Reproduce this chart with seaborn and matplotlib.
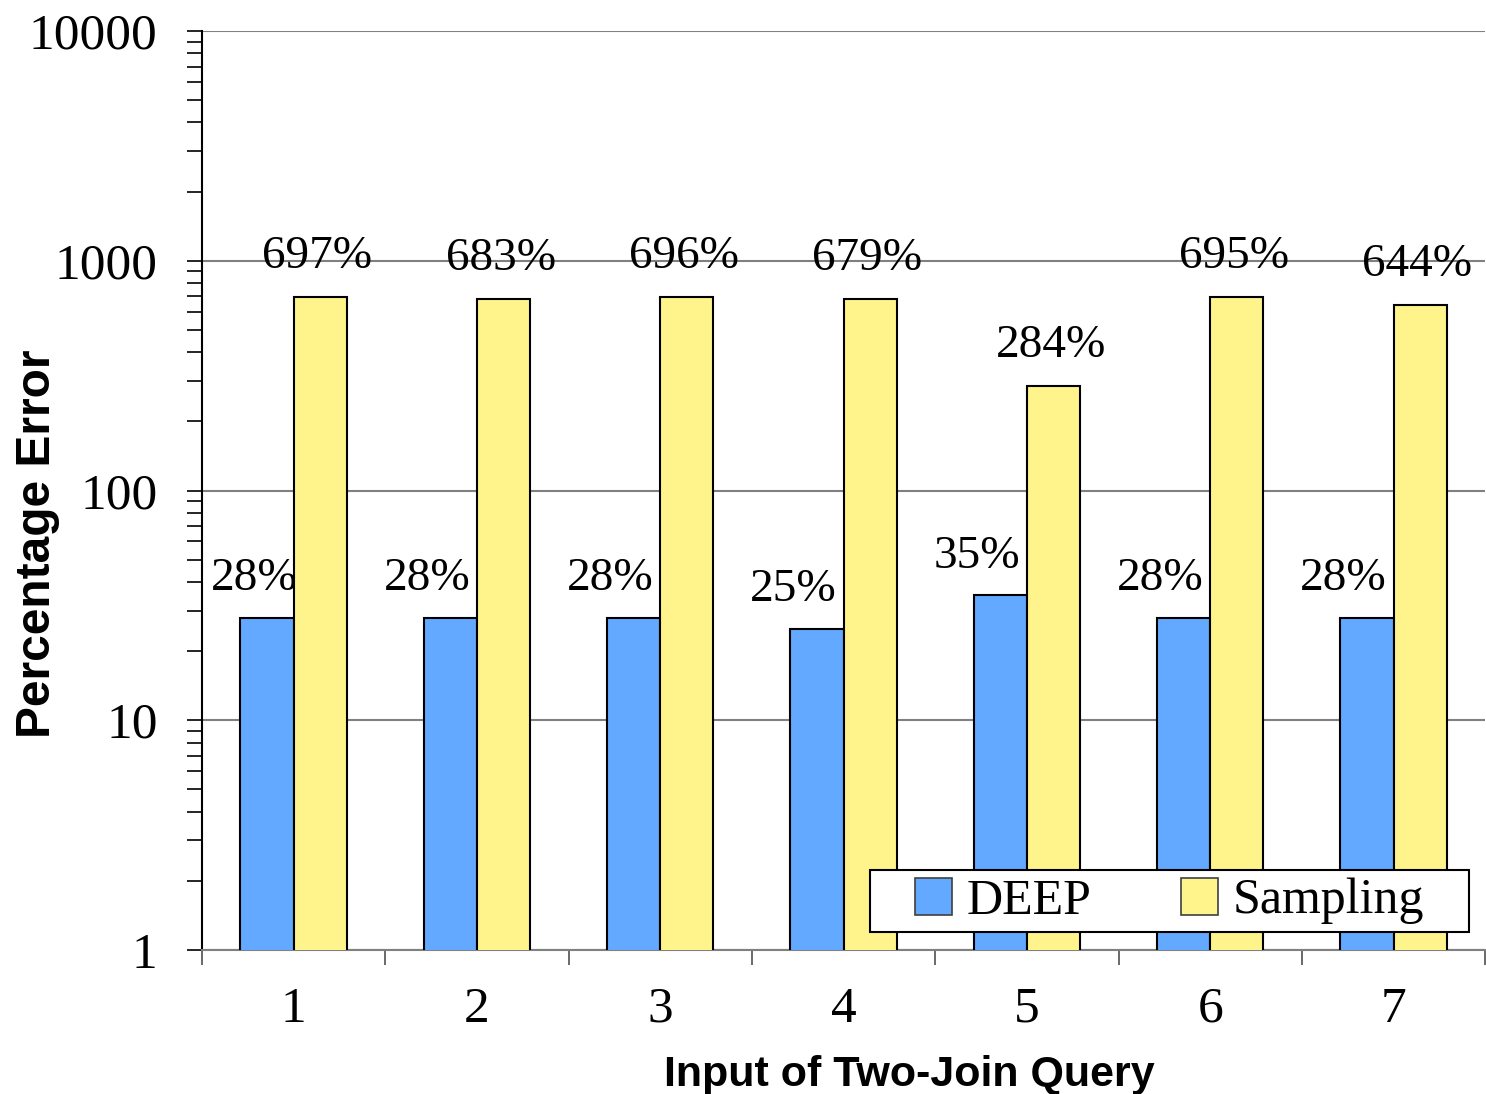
import numpy as np
import pandas as pd
import matplotlib
matplotlib.use('Agg')
import matplotlib.pyplot as plt
from matplotlib.patches import Rectangle
from matplotlib.ticker import FixedLocator, LogLocator, NullFormatter
import seaborn as sns

# Data
queries = ['1', '2', '3', '4', '5', '6', '7']
deep_err = [28, 28, 28, 25, 35, 28, 28]
sampling_err = [697, 683, 696, 679, 284, 695, 644]
methods = ['DEEP', 'Sampling']
colors = ['#63A9FF', '#FFF48C']
ytick_vals = [1, 10, 100, 1000, 10000]

df = pd.DataFrame({
    'Query': queries * 2,
    'Error': deep_err + sampling_err,
    'Method': [methods[0]] * len(queries) + [methods[1]] * len(queries),
})

sns.set_style('white')
plt.rcParams['font.family'] = ['Liberation Serif', 'DejaVu Serif']
plt.rcParams['text.color'] = 'black'
plt.rcParams['axes.labelcolor'] = 'black'
plt.rcParams['xtick.color'] = 'black'
plt.rcParams['ytick.color'] = 'black'

fig = plt.figure(figsize=(14.86, 10.94), dpi=100)
ax = fig.add_axes([202 / 1486, 1 - 950 / 1094, 1 - 202 / 1486 - 0.0005, (950 - 31) / 1094])

sns.barplot(data=df, x='Query', y='Error', hue='Method', palette=colors,
            width=0.58, gap=0, edgecolor='black', linewidth=1.5,
            saturation=1, ax=ax, zorder=3, legend=True)

ax.set_yscale('log')
ax.set_ylim(1, 10000)
ax.set_xlim(-0.5, len(queries) - 0.5)

# grid
ax.yaxis.grid(True, which='major', color='#808080', linewidth=1.5, zorder=0)
ax.xaxis.grid(False)
ax.set_axisbelow(True)

# spines
for s in ['top', 'right']:
    ax.spines[s].set_visible(False)
ax.spines['left'].set_color('black')
ax.spines['left'].set_linewidth(1.5)
ax.spines['bottom'].set_color('#808080')
ax.spines['bottom'].set_linewidth(1.5)

# y ticks
ax.yaxis.set_major_locator(FixedLocator(ytick_vals))
ax.set_yticklabels([str(v) for v in ytick_vals])
ax.yaxis.set_minor_locator(LogLocator(base=10, subs=np.arange(2, 10)))
ax.yaxis.set_minor_formatter(NullFormatter())
ax.tick_params(axis='y', which='both', direction='out', length=11, width=1.2,
               color='black', left=True, labelsize=37, pad=21)

# x ticks: labels at centers, tick marks at group boundaries
ax.tick_params(axis='x', which='major', length=0, labelsize=37, pad=26)
ax.set_xticks(np.arange(-0.5, len(queries)), minor=True)
ax.tick_params(axis='x', which='minor', direction='out', length=11, width=1.2,
               color='#505050', bottom=True)

ax.set_xlabel('Input of Two-Join Query', fontsize=31, fontweight='bold',
              family=['Liberation Sans', 'DejaVu Sans'])
ax.xaxis.set_label_coords((910 - 202) / 1284, (950 - 1055) / 919)
ax.set_ylabel('Percentage Error', fontsize=34.5, fontweight='bold',
              family=['Liberation Sans', 'DejaVu Sans'])
ax.yaxis.set_label_coords((60 - 202) / 1284, (950 - 544) / 919)

# value labels, drawn beneath the bars
offsets = [(-17, 28), (-2, 29)]
annots = []
for cont, vals, (dx, dy) in zip(ax.containers, [deep_err, sampling_err], offsets):
    for patch, v in zip(cont.patches, vals):
        xc = patch.get_x() + patch.get_width() / 2
        annots.append(ax.annotate(f'{v}%', xy=(xc, v), xytext=(dx, dy),
                                  textcoords='offset points', ha='center',
                                  va='center', fontsize=34, zorder=2))

# legend
handles, labels = ax.get_legend_handles_labels()
leg = ax.legend(handles, labels, ncol=2, loc='lower right',
                bbox_to_anchor=((1470 - 38 - 202) / 1284, 18 / 919), borderaxespad=0,
                frameon=False, fontsize=36, handlelength=0.74, handleheight=0.76,
                handletextpad=0.28, columnspacing=1.8, borderpad=0.15)
for h in leg.legend_handles:
    h.set_edgecolor('#404040')
    h.set_linewidth(1.2)
leg.set_zorder(6)

fig.canvas.draw()

# keep value labels inside the plot area
ax_bb = ax.get_window_extent()
for a in annots:
    bb = a.get_window_extent()
    if bb.x0 < ax_bb.x0 + 9:
        sx = (ax_bb.x0 + 9 - bb.x0) * 72 / fig.dpi
        x0, y0 = a.xyann
        a.xyann = (x0 + sx, y0)

# legend frame with wider side padding
bb = leg.get_window_extent().transformed(ax.transAxes.inverted())
padx = 38 / 1284
ax.add_patch(Rectangle((bb.x0 - padx, bb.y0), bb.width + 2 * padx, bb.height,
                       transform=ax.transAxes, facecolor='white', edgecolor='black',
                       linewidth=1.5, zorder=5, clip_on=False))

fig.savefig('out.png', dpi=100)
